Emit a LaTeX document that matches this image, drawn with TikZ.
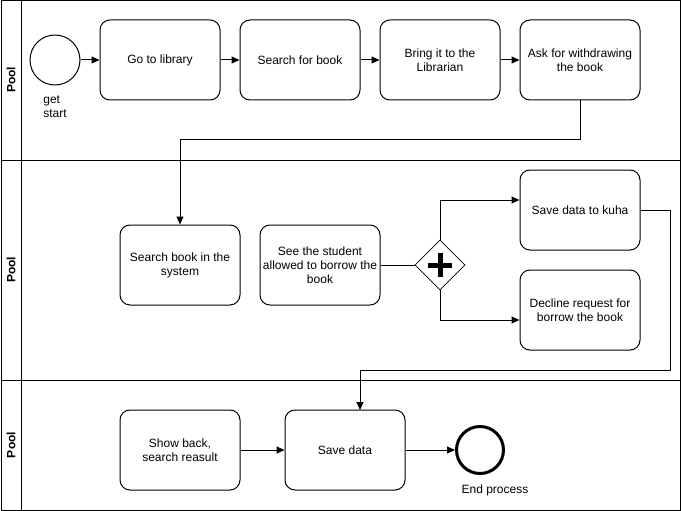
\documentclass[tikz,border=0pt]{standalone}
\usepackage{fontspec}
\setmainfont{Liberation Sans}
\usetikzlibrary{arrows.meta,shapes.geometric}
\begin{document}
\begin{tikzpicture}[x=1pt,y=-1pt,
  every node/.style={font=\fontsize{12}{14}\selectfont},
  task/.style={draw,line width=1pt,rounded corners=10pt,minimum width=120pt,minimum height=80pt,align=center,inner sep=0pt},
  flow/.style={line width=1pt,-{Triangle[length=8pt,width=7pt]}},
  plain/.style={line width=1pt},
  lanetitle/.style={rotate=90,font=\fontsize{12}{14}\selectfont\bfseries}]
\useasboundingbox (0,0) rectangle (681,511);
% pools
\draw[plain] (1,1) rectangle (680,510);
\draw[plain] (1,160) -- (680,160);
\draw[plain] (1,380) -- (680,380);
\draw[plain] (21,1) -- (21,510);
\node[lanetitle] (p1) at (11,80) {Pool};
\node[lanetitle] (p2) at (11,270) {Pool};
\node[lanetitle] (p3) at (11,445) {Pool};
% lane 1
\node[draw,circle,line width=1pt,minimum size=50pt,inner sep=0pt] (start) at (55,60) {};
\node[align=left,anchor=north] (startlbl) at (55,92) {get\\start};
\node[task] (go) at (160,60) {Go to library};
\node[task] (search) at (300,60) {Search for book};
\node[task] (bring) at (440,60) {Bring it to the\\Librarian};
\node[task] (ask) at (580,60) {Ask for withdrawing\\the book};
% lane 2
\node[task] (sys) at (180,265) {Search book in the\\system};
\node[task] (see) at (320,265) {See the student\\allowed to borrow the\\book};
\node[draw,diamond,line width=0.6pt,minimum size=50pt,inner sep=0pt] (gw) at (440,265) {};
\draw[line width=5pt] (428,265) -- (452,265) (440,253) -- (440,277);
\node[task] (kuha) at (580,210) {Save data to kuha};
\node[task] (decl) at (580,310) {Decline request for\\borrow the book};
% lane 3
\node[task] (show) at (180,450) {Show back,\\search reasult};
\node[task] (save) at (345,450) {Save data};
\node[draw,circle,line width=3pt,minimum size=47pt,inner sep=0pt] (end) at (480,450) {};
\node[anchor=north] (endlbl) at (495,481) {End process};
% flows
\draw[flow] (start) -- (go);
\draw[flow] (go) -- (search);
\draw[flow] (search) -- (bring);
\draw[flow] (bring) -- (ask);
\draw[flow] (ask.south) -- (580,140) -- (180,140) -- (sys.north);
\draw[plain] (see) -- (gw.west);
\draw[flow] (gw.north) |- (kuha.west |- 440,200);
\draw[flow] (gw.south) |- (decl.west |- 440,320);
\draw[flow] (kuha.east) -- (670,210) -- (670,370) -- (360,370) -- (360,410);
\draw[flow] (show) -- (save);
\draw[flow] (save) -- (end);
\end{tikzpicture}
\end{document}
